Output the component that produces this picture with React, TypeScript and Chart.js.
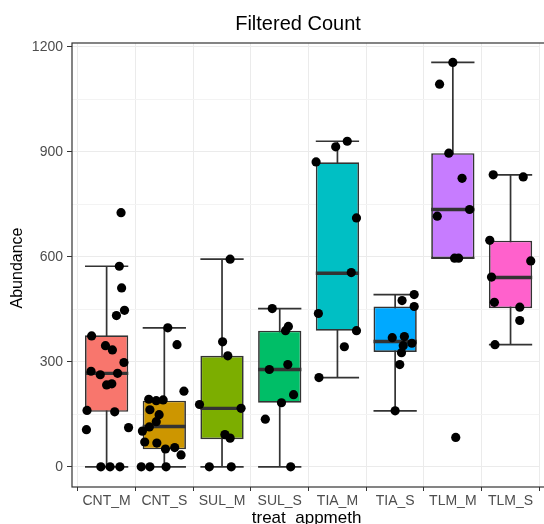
import React, { useEffect, useRef } from "react";
import { Chart, registerables } from "chart.js";

Chart.register(...registerables);

const categories = ["CNT_M", "CNT_S", "SUL_M", "SUL_S", "TIA_M", "TIA_S", "TLM_M", "TLM_S"];
const boxColors = ["#F8766D", "#CD9600", "#7CAE00", "#00BE67", "#00BFC4", "#00A9FF", "#C77CFF", "#FF61CC"];

// box statistics
const q1 = [157, 50, 79, 183, 389, 328, 596, 453];
const medians = [267, 115, 167, 278, 553, 358, 735, 541];
const q3 = [376, 189, 317, 389, 870, 458, 896, 646];
const whiskerLow = [0, 0, 0, 0, 255, 160, 596, 349];
const whiskerHigh = [573, 397, 593, 452, 930, 492, 1155, 834];

// observed points (value, horizontal jitter in category units)
const cntMValues = [726, 573, 511, 447, 432, 374, 346, 334, 298, 273, 263, 267, 237, 234, 161, 157, 106, 112, 0, 0, 0];
const cntMJitter = [0.25, 0.22, 0.26, 0.31, 0.17, -0.26, -0.02, 0.1, 0.3, -0.27, -0.11, 0.19, 0.09, 0.0, -0.34, 0.14, -0.35, 0.38, -0.1, 0.06, 0.23];
const cntSValues = [397, 349, 216, 193, 189, 191, 163, 149, 129, 114, 102, 71, 68, 51, 55, 34, 0, 0, 0];
const cntSJitter = [0.06, 0.22, 0.34, -0.27, -0.14, -0.02, -0.25, -0.09, -0.14, -0.26, -0.38, -0.34, -0.13, 0.02, 0.18, 0.29, -0.4, -0.25, 0.03];
const sulMValues = [593, 357, 317, 178, 167, 92, 82, 0, 0];
const sulMJitter = [0.14, 0.01, 0.1, -0.39, 0.33, 0.05, 0.14, -0.22, 0.16];
const sulSValues = [452, 401, 389, 278, 292, 206, 183, 136, 0];
const sulSJitter = [-0.13, 0.15, 0.1, -0.18, 0.14, 0.24, 0.03, -0.25, 0.19];
const tiaMValues = [930, 914, 871, 711, 555, 438, 389, 343, 255];
const tiaMJitter = [0.17, -0.03, -0.37, 0.33, 0.24, -0.33, 0.33, 0.12, -0.32];
const tiaSValues = [492, 475, 458, 369, 372, 353, 346, 326, 292, 160];
const tiaSJitter = [0.33, 0.12, 0.33, -0.05, 0.16, 0.29, 0.14, 0.11, 0.08, 0.0];
const tlmMValues = [1155, 1093, 896, 824, 735, 716, 596, 596, 84];
const tlmMJitter = [0.0, -0.23, -0.07, 0.16, 0.29, -0.27, 0.03, 0.1, 0.05];
const tlmSValues = [834, 828, 647, 588, 542, 470, 456, 418, 349];
const tlmSJitter = [-0.3, 0.22, -0.36, 0.35, -0.33, -0.28, 0.16, 0.16, -0.27];

const pointValues = [cntMValues, cntSValues, sulMValues, sulSValues, tiaMValues, tiaSValues, tlmMValues, tlmSValues];
const pointJitter = [cntMJitter, cntSJitter, sulMJitter, sulSJitter, tiaMJitter, tiaSJitter, tlmMJitter, tlmSJitter];

const yTicks = [0, 150, 300, 450, 600, 750, 900, 1050, 1200];

const chartTitle = "Filtered Count";
const xTitle = "treat_appmeth";
const yTitle = "Abundance";

const FONT = "'Liberation Sans', Arial, sans-serif";
const BOX_HALF = 0.375;

const boxPlugin = {
  id: "boxExtras",
  beforeDatasetsDraw(chart: any) {
    const { ctx, chartArea, scales } = chart;
    const x = scales.x;
    const y = scales.y;
    ctx.save();
    // panel border
    ctx.strokeStyle = "#333333";
    ctx.lineWidth = 1.2;
    ctx.strokeRect(chartArea.left, chartArea.top, chartArea.right - chartArea.left + 20, chartArea.bottom - chartArea.top);
    // whiskers
    ctx.strokeStyle = "#333333";
    ctx.lineWidth = 1.7;
    categories.forEach((_, i) => {
      const cx = x.getPixelForValue(i);
      const l = x.getPixelForValue(i - BOX_HALF);
      const r = x.getPixelForValue(i + BOX_HALF);
      const lo = y.getPixelForValue(whiskerLow[i]);
      const hi = y.getPixelForValue(whiskerHigh[i]);
      ctx.beginPath();
      ctx.moveTo(cx, lo);
      ctx.lineTo(cx, hi);
      ctx.moveTo(l, lo);
      ctx.lineTo(r, lo);
      ctx.moveTo(l, hi);
      ctx.lineTo(r, hi);
      ctx.stroke();
    });
    ctx.restore();
  },
  afterDatasetDraw(chart: any, args: any) {
    if (args.index !== 0) return;
    const { ctx, scales } = chart;
    const x = scales.x;
    const y = scales.y;
    ctx.save();
    ctx.strokeStyle = "#333333";
    ctx.lineWidth = 3.4;
    categories.forEach((_, i) => {
      const l = x.getPixelForValue(i - BOX_HALF);
      const r = x.getPixelForValue(i + BOX_HALF);
      const m = y.getPixelForValue(medians[i]);
      ctx.beginPath();
      ctx.moveTo(l, m);
      ctx.lineTo(r, m);
      ctx.stroke();
    });
    ctx.restore();
  },
  afterDraw(chart: any) {
    const { ctx, chartArea, scales } = chart;
    const x = scales.x;
    ctx.save();
    ctx.fillStyle = "#000000";
    ctx.textAlign = "center";
    ctx.textBaseline = "alphabetic";
    ctx.font = `20px ${FONT}`;
    ctx.fillText(chartTitle, 298, 30);
    ctx.font = `17px ${FONT}`;
    ctx.textBaseline = "middle";
    ctx.fillText(xTitle, x.getPixelForValue(3.5) - 2, 518);
    ctx.translate(18, (chartArea.top + chartArea.bottom) / 2 + 3);
    ctx.rotate(-Math.PI / 2);
    ctx.font = `16px ${FONT}`;
    ctx.fillText(yTitle, 0, 0);
    ctx.restore();
  },
};

const bgPlugin = {
  id: "bg",
  beforeDraw(chart: any) {
    const { ctx, width, height } = chart;
    ctx.save();
    ctx.fillStyle = "#ffffff";
    ctx.fillRect(0, 0, width, height);
    ctx.restore();
  },
};

export default function App() {
  const canvasRef = useRef<HTMLCanvasElement | null>(null);

  useEffect(() => {
    if (!canvasRef.current) return;
    const boxData = categories.map((_, i) => ({ x: i, y: [q1[i], q3[i]] }));
    const scatterData: { x: number; y: number }[] = [];
    pointValues.forEach((vals, i) => {
      vals.forEach((v, j) => scatterData.push({ x: i + pointJitter[i][j], y: v }));
    });

    const chart = new Chart(canvasRef.current, {
      type: "bar",
      data: {
        datasets: [
          {
            type: "bar",
            data: boxData as any,
            backgroundColor: boxColors,
            borderColor: "#333333",
            borderWidth: 1.7,
            borderSkipped: false,
            categoryPercentage: 1,
            barPercentage: 0.75,
            order: 2,
          } as any,
          {
            type: "scatter",
            data: scatterData,
            backgroundColor: "#000000",
            borderWidth: 0,
            pointRadius: 4.6,
            order: 1,
          } as any,
        ],
      },
      options: {
        animation: false,
        responsive: true,
        maintainAspectRatio: false,
        layout: { padding: { top: 43, left: 0, right: 0, bottom: 0 } },
        plugins: {
          legend: { display: false },
          title: { display: false },
          tooltip: { enabled: false },
        },
        scales: {
          x: {
            type: "linear",
            min: -0.6,
            max: 7.5,
            offset: false,
            afterBuildTicks: (axis: any) => {
              axis.ticks = categories.map((_, i) => ({ value: i }));
            },
            afterFit: (axis: any) => {
              axis.height = 37;
            },
            ticks: {
              autoSkip: false,
              maxRotation: 0,
              padding: 2,
              color: "#4d4d4d",
              font: { family: FONT, size: 14 },
              callback: (v: any) => categories[Math.round(Number(v))] ?? "",
            },
            grid: {
              color: "#ebebeb",
              lineWidth: 1,
              tickLength: 4,
              tickColor: "#333333",
            },
            border: { display: false },
          },
          y: {
            type: "linear",
            min: -57.6,
            max: 1210.6,
            afterBuildTicks: (axis: any) => {
              axis.ticks = yTicks.map((v) => ({ value: v }));
            },
            afterFit: (axis: any) => {
              axis.width = 72;
            },
            ticks: {
              padding: 4,
              color: "#4d4d4d",
              font: { family: FONT, size: 14 },
              callback: (v: any) => (Number(v) % 300 === 0 ? String(v) : ""),
            },
            grid: {
              color: (c: any) => (c.tick && c.tick.value % 300 === 0 ? "#ebebeb" : "#f3f3f3"),
              lineWidth: 1,
              tickLength: 5,
              tickColor: (c: any) => (c.tick && c.tick.value % 300 === 0 ? "#333333" : "rgba(0,0,0,0)"),
            },
            border: { display: false },
          },
        },
      },
      plugins: [bgPlugin, boxPlugin],
    });
    return () => chart.destroy();
  }, []);

  return (
    <div style={{ position: "absolute", left: 0, top: 0, width: 544, height: 524, background: "#fff" }}>
      <canvas ref={canvasRef} />
    </div>
  );
}
